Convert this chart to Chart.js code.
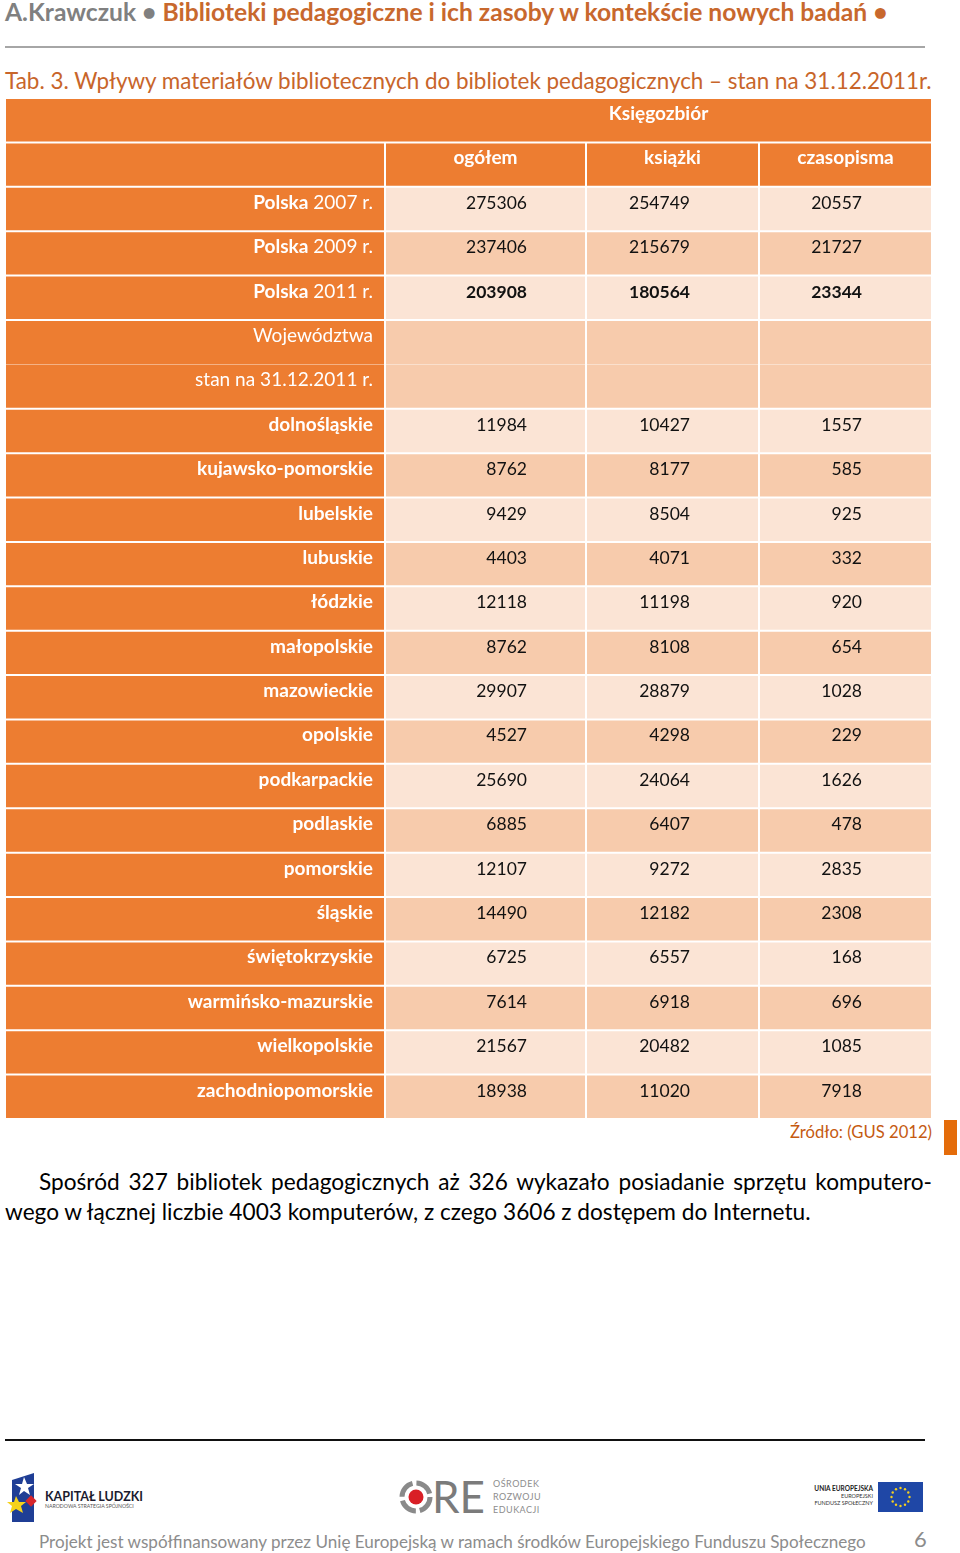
<!DOCTYPE html>
<html lang="pl">
<head>
<meta charset="utf-8">
<title>Tab. 3</title>
<script src="https://cdn.jsdelivr.net/npm/chart.js@4.4.1/dist/chart.umd.min.js"></script>
<style>
  body { margin: 0; background: #fff; }
  #page { position: relative; width: 960px; height: 1553px; overflow: hidden; font-family: Lato, "Open Sans", sans-serif; }
  .t { position: absolute; white-space: nowrap; line-height: 1; }
  .rule { position: absolute; left: 5px; width: 920px; }
  #tableCanvas { position: absolute; left: 5px; top: 98px; }
</style>
</head>
<body>
<div id="page">
  <div class="t" id="hdr" style="left:5px;font-weight:bold;font-size:24px;"><span style="color:#808080">A.Krawczuk •</span> <span style="color:#C8682D">Biblioteki pedagogiczne i ich zasoby w kontekście nowych badań •</span></div>
  <div class="rule" style="top:46px;height:2px;background:#a6a6a6;"></div>
  <div class="t" id="cap" style="left:5px;color:#C8652A;font-size:22px;">Tab. 3. Wpływy materiałów bibliotecznych do bibliotek pedagogicznych – stan na 31.12.2011r.</div>

  <canvas id="tableCanvas" width="927" height="1021"></canvas>

  <div class="t" id="src" style="color:#C55A11;font-size:17px;">Źródło: (GUS 2012)</div>
  <div style="position:absolute;left:944px;top:1120px;width:13px;height:35px;background:#E46C0A;"></div>

  <div class="t" id="p1" style="left:39px;width:893px;white-space:normal;text-align:justify;text-align-last:justify;color:#000;font-size:22px;">Spośród 327 bibliotek pedagogicznych aż 326 wykazało posiadanie sprzętu komputero-</div>
  <div class="t" id="p2" style="left:5px;color:#000;font-size:22px;">wego w łącznej liczbie 4003 komputerów, z czego 3606 z dostępem do Internetu.</div>

  <div class="rule" style="top:1439px;height:2px;background:#111;"></div>

  <svg style="position:absolute;left:0;top:1460px;" width="960" height="70" font-family="Lato, sans-serif">
    <!-- Kapitał Ludzki -->
    <polygon points="12,20 34,13 34,62 12,62" fill="#1F3E95"/>
    <polygon points="24,17 27,24 34,24 28,28 30,35 24,31 19,35 21,28 15,24 22,24" fill="#fff"/>
    <polygon points="16,36 19,42 26,42 21,46 23,53 16,49 10,53 12,46 7,42 14,42" fill="#F6D21B"/>
    <rect x="27" y="37" width="8" height="8" transform="rotate(45 31 41)" fill="#D7262C"/>
    <text x="45" y="41" font-size="12.5" font-weight="bold" fill="#1b1b2f">KAPITAŁ LUDZKI</text>
    <text x="45" y="48" font-size="5.2" fill="#555">NARODOWA STRATEGIA SPÓJNOŚCI</text>
    <!-- ORE -->
    <circle cx="416" cy="37" r="14" fill="none" stroke="#8a8a8a" stroke-width="5" stroke-dasharray="18 4"/>
    <circle cx="416" cy="37" r="7.5" fill="#D91F26"/>
    <text x="432" y="53" font-size="44" fill="#7b7b7b">RE</text>
    <text x="493" y="27" font-size="9" fill="#8d8d8d" letter-spacing="0.5">OŚRODEK</text>
    <text x="493" y="40" font-size="9" fill="#8d8d8d" letter-spacing="0.5">ROZWOJU</text>
    <text x="493" y="53" font-size="9" fill="#8d8d8d" letter-spacing="0.5">EDUKACJI</text>
    <!-- UE -->
    <text x="873" y="31" font-size="6.5" font-weight="bold" fill="#222" text-anchor="end">UNIA EUROPEJSKA</text>
    <text x="873" y="38" font-size="5.5" fill="#333" text-anchor="end">EUROPEJSKI</text>
    <text x="873" y="45" font-size="5.5" fill="#333" text-anchor="end">FUNDUSZ SPOŁECZNY</text>
    <rect x="878" y="22" width="45" height="30" fill="#1F47A6"/>
    <g fill="#F5D020" id="stars"></g>
  </svg>

  <div class="t" id="foot" style="left:39px;color:#8c8c8c;font-size:18px;">Projekt jest współfinansowany przez Unię Europejską w ramach środków Europejskiego Funduszu Społecznego</div>
  <div class="t" id="pg" style="left:914px;color:#8c8c8c;font-size:22px;">6</div>
</div>

<script>
// ---- data ----
const groupTitle = 'Księgozbiór';
const columns = ['ogółem', 'książki', 'czasopisma'];

const polskaName = 'Polska';
const polskaYears = ['2007 r.', '2009 r.', '2011 r.'];
const polskaOgolem = [275306, 237406, 203908];
const polskaKsiazki = [254749, 215679, 180564];
const polskaCzasopisma = [20557, 21727, 23344];

const wojLines = ['Województwa', 'stan na 31.12.2011 r.'];

const regions = ['dolnośląskie', 'kujawsko-pomorskie', 'lubelskie', 'lubuskie', 'łódzkie',
    'małopolskie', 'mazowieckie', 'opolskie', 'podkarpackie', 'podlaskie', 'pomorskie',
    'śląskie', 'świętokrzyskie', 'warmińsko-mazurskie', 'wielkopolskie', 'zachodniopomorskie'];
const regionOgolem = [11984, 8762, 9429, 4403, 12118, 8762, 29907, 4527, 25690, 6885, 12107, 14490, 6725, 7614, 21567, 18938];
const regionKsiazki = [10427, 8177, 8504, 4071, 11198, 8108, 28879, 4298, 24064, 6407, 9272, 12182, 6557, 6918, 20482, 11020];
const regionCzasopisma = [1557, 585, 925, 332, 920, 654, 1028, 229, 1626, 478, 2835, 2308, 168, 696, 1085, 7918];

// ---- layout (table units = canvas px) ----
const colEdges = [0, 380, 581, 754, 927];
const labelRight = 368;
const numRight = [522, 685, 857];
const textDrop = 22;

const ORANGE = '#ED7D31';
const LIGHT = '#FBE4D5';
const DARK = '#F7CBAC';

// page text placement: put baseline at y
function placeBaseline(el, y) {
    const fs = parseFloat(getComputedStyle(el).fontSize);
    el.style.top = (y - 0.887 * fs) + 'px';
}
function fitWidth(el, w) {
    const cur = el.getBoundingClientRect().width;
    const fs = parseFloat(getComputedStyle(el).fontSize);
    el.style.fontSize = (fs * w / cur) + 'px';
}

function layoutPage() {
    const hdr = document.getElementById('hdr');
    fitWidth(hdr, 883);
    placeBaseline(hdr, 22);
    const cap = document.getElementById('cap');
    fitWidth(cap, 927);
    placeBaseline(cap, 90);
    const src = document.getElementById('src');
    fitWidth(src, 142);
    src.style.left = (932 - src.getBoundingClientRect().width) + 'px';
    placeBaseline(src, 1139);
    const p2 = document.getElementById('p2');
    fitWidth(p2, 806);
    placeBaseline(p2, 1221);
    const p1 = document.getElementById('p1');
    p1.style.fontSize = p2.style.fontSize;
    placeBaseline(p1, 1191);
    const foot = document.getElementById('foot');
    fitWidth(foot, 827);
    placeBaseline(foot, 1548);
    placeBaseline(document.getElementById('pg'), 1548);

    // stars of the EU flag
    const g = document.getElementById('stars');
    for (let k = 0; k < 12; k++) {
        const a = k * Math.PI / 6;
        const c = document.createElementNS('http://www.w3.org/2000/svg', 'circle');
        c.setAttribute('cx', 900.5 + 9 * Math.cos(a));
        c.setAttribute('cy', 37 + 9 * Math.sin(a));
        c.setAttribute('r', 1.2);
        g.appendChild(c);
    }
}

// ---- rows of the table ----
const rows = [];
rows.push({ kind: 'group', key: groupTitle });
rows.push({ kind: 'head', key: 'head' });
polskaYears.forEach((year, i) => rows.push({
    kind: 'num', key: polskaName + ' ' + year, name: polskaName, sub: year,
    vals: [polskaOgolem[i], polskaKsiazki[i], polskaCzasopisma[i]],
    bold: i === polskaYears.length - 1, shade: i
}));
wojLines.forEach((line, i) => rows.push({ kind: 'woj', key: line, text: line, first: i === 0, shade: polskaYears.length }));
regions.forEach((r, j) => rows.push({
    kind: 'num', key: r, name: r,
    vals: [regionOgolem[j], regionKsiazki[j], regionCzasopisma[j]],
    bold: false, shade: polskaYears.length + 1 + j
}));

function cellSpan(row, c) {
    if (row.kind === 'group') return c === 0 ? [colEdges[0], colEdges[4]] : null;
    return [colEdges[c], colEdges[c + 1]];
}
function cellFill(row, c) {
    if (row.kind === 'group' || row.kind === 'head' || c === 0) return ORANGE;
    return row.shade % 2 === 0 ? LIGHT : DARK;
}
function cellBorder(row) {
    if (row.kind === 'woj') {
        return row.first ? { top: 1, right: 1, bottom: 0, left: 1 } : { top: 0, right: 1, bottom: 1, left: 1 };
    }
    return 1;
}

let labelFont, numFont;
function fitFont(ctx, weight, sample, width) {
    ctx.font = weight + ' 20px Lato';
    return 20 * width / ctx.measureText(sample).width;
}

const cellText = {
    id: 'cellText',
    afterDatasetsDraw(chart) {
        const ctx = chart.ctx;
        const xs = chart.scales.x;
        ctx.save();
        ctx.textBaseline = 'alphabetic';
        chart.data.datasets.forEach((ds, c) => {
            chart.getDatasetMeta(c).data.forEach((bar, i) => {
                const row = rows[i];
                if (!ds.data[i]) return;
                const p = bar.getProps(['x', 'y', 'base', 'height'], true);
                const left = Math.min(p.x, p.base), right = Math.max(p.x, p.base);
                const y = p.y - p.height / 2 + textDrop;
                if (row.kind === 'group') {
                    ctx.fillStyle = '#fff';
                    ctx.textAlign = 'center';
                    ctx.font = 'bold ' + labelFont + 'px Lato';
                    ctx.fillText(groupTitle, (xs.getPixelForValue(colEdges[1]) + right) / 2, y);
                } else if (row.kind === 'head') {
                    if (c === 0) return;
                    ctx.fillStyle = '#fff';
                    ctx.textAlign = 'center';
                    ctx.font = 'bold ' + labelFont + 'px Lato';
                    ctx.fillText(columns[c - 1], (left + right) / 2, y);
                } else if (row.kind === 'woj') {
                    if (c !== 0) return;
                    ctx.fillStyle = '#fff';
                    ctx.textAlign = 'right';
                    ctx.font = labelFont + 'px Lato';
                    ctx.fillText(row.text, xs.getPixelForValue(labelRight), y);
                } else if (c === 0) {
                    ctx.fillStyle = '#fff';
                    ctx.textAlign = 'right';
                    let xr = xs.getPixelForValue(labelRight);
                    if (row.sub) {
                        ctx.font = labelFont + 'px Lato';
                        const s = ' ' + row.sub;
                        ctx.fillText(s, xr, y);
                        xr -= ctx.measureText(s).width;
                    }
                    ctx.font = 'bold ' + labelFont + 'px Lato';
                    ctx.fillText(row.name, xr, y);
                } else {
                    ctx.fillStyle = '#111';
                    ctx.textAlign = 'right';
                    ctx.font = (row.bold ? 'bold ' : '') + numFont + 'px Lato';
                    ctx.fillText(String(row.vals[c - 1]), xs.getPixelForValue(numRight[c - 1]), y);
                }
            });
        });
        ctx.restore();
    }
};

function build() {
    layoutPage();
    const canvas = document.getElementById('tableCanvas');
    const mctx = canvas.getContext('2d');
    labelFont = fitFont(mctx, 'bold', 'kujawsko-pomorskie', 176);
    numFont = fitFont(mctx, 'normal', '275306', 61);

    new Chart(canvas, {
        type: 'bar',
        data: {
            labels: rows.map(r => r.key),
            datasets: [0, 1, 2, 3].map(c => ({
                data: rows.map(r => cellSpan(r, c)),
                backgroundColor: ctx => cellFill(rows[ctx.dataIndex], c),
                borderColor: '#ffffff',
                borderWidth: ctx => cellBorder(rows[ctx.dataIndex]),
                borderSkipped: false,
                inflateAmount: 0,
                grouped: false,
                barPercentage: 1,
                categoryPercentage: 1
            }))
        },
        options: {
            indexAxis: 'y',
            responsive: false,
            animation: false,
            layout: { padding: 0 },
            plugins: { legend: { display: false }, tooltip: { enabled: false } },
            scales: {
                x: { type: 'linear', min: colEdges[0], max: colEdges[4], display: false },
                y: { display: false }
            }
        },
        plugins: [cellText]
    });
}

Promise.all([
    document.fonts.load('bold 20px Lato'),
    document.fonts.load('20px Lato')
]).then(build, build);
</script>
</body>
</html>
